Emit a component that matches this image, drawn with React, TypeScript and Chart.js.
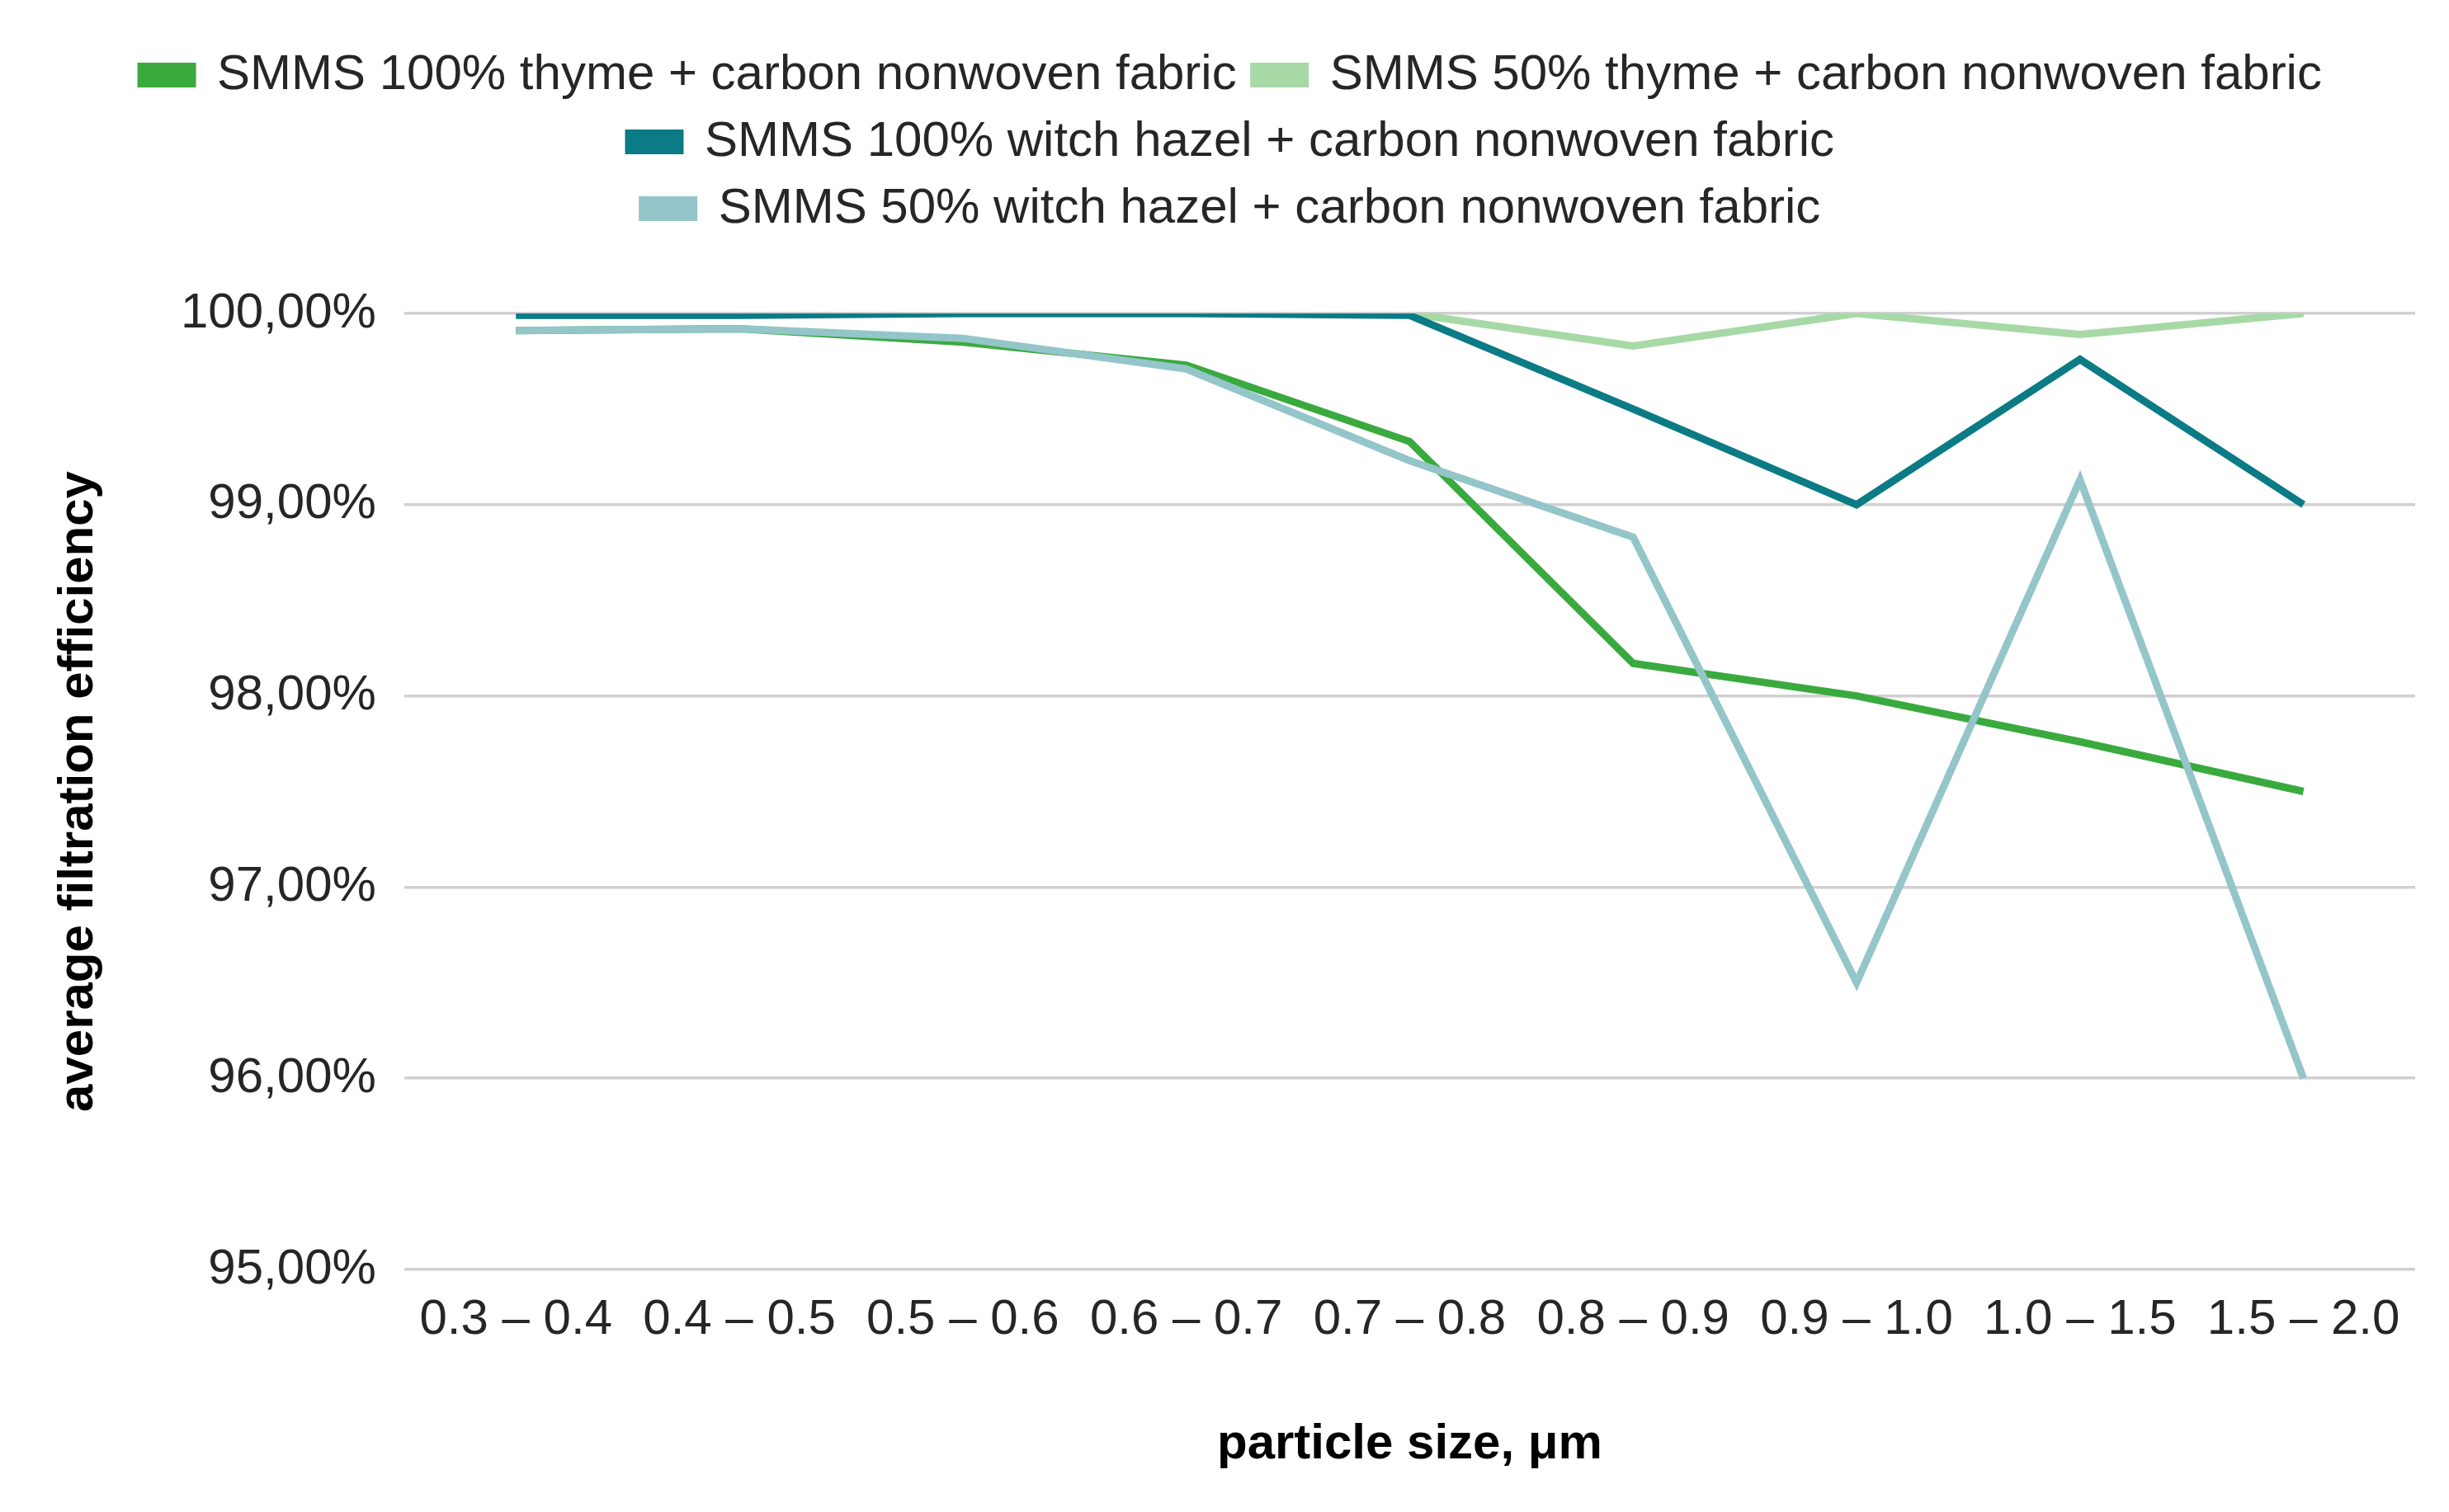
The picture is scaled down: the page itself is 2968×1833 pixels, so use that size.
import React, { useEffect, useRef } from "react";
import { Chart, registerables } from "chart.js";

Chart.register(...registerables);

const categories = [
  "0.3 – 0.4",
  "0.4 – 0.5",
  "0.5 – 0.6",
  "0.6 – 0.7",
  "0.7 – 0.8",
  "0.8 – 0.9",
  "0.9 – 1.0",
  "1.0 – 1.5",
  "1.5 – 2.0",
];

const thyme100 = [99.91, 99.92, 99.85, 99.73, 99.33, 98.17, 98.0, 97.76, 97.5];
const thyme50 = [100.0, 100.0, 100.0, 100.0, 100.0, 99.83, 100.0, 99.89, 100.0];
const witchHazel100 = [99.99, 99.99, 100.0, 100.0, 99.99, 99.5, 99.0, 99.76, 99.0];
const witchHazel50 = [99.91, 99.92, 99.87, 99.71, 99.23, 98.83, 96.5, 99.13, 96.0];

const seriesNames = [
  "SMMS 100% thyme + carbon nonwoven fabric",
  "SMMS 50% thyme + carbon nonwoven fabric",
  "SMMS 100% witch hazel + carbon nonwoven fabric",
  "SMMS 50% witch hazel + carbon nonwoven fabric",
];

const yTicks = [95, 96, 97, 98, 99, 100];

const FONT = "'Liberation Sans', Arial, Helvetica, sans-serif";

export default function App() {
  const canvasRef = useRef<HTMLCanvasElement | null>(null);

  useEffect(() => {
    const canvas = canvasRef.current;
    if (!canvas) return;
    const legendSpacer = {
      id: "legendSpacer",
      beforeInit(chart: any) {
        const originalFit = chart.legend.fit;
        chart.legend.fit = function fit() {
          originalFit.bind(chart.legend)();
          this.height += 87;
        };
      },
    };
    const mk = (label: string, data: number[], color: string, order: number) => ({
      label,
      data,
      borderColor: color,
      backgroundColor: color,
      borderWidth: 9,
      pointRadius: 0,
      tension: 0,
      fill: false,
      order,
    });
    const chart = new Chart(canvas, {
      type: "line",
      data: {
        labels: categories,
        datasets: [
          mk(seriesNames[0], thyme100, "#3aaa3f", 3),
          mk(seriesNames[1], thyme50, "#a6d9a6", 2),
          mk(seriesNames[2], witchHazel100, "#0b7b86", 1),
          mk(seriesNames[3], witchHazel50, "#93c5c9", 0),
        ],
      },
      options: {
        responsive: false,
        animation: false,
        devicePixelRatio: 1,
        layout: { padding: { top: 32, left: 50, right: 33, bottom: 0 } },
        plugins: {
          tooltip: { enabled: false },
          legend: {
            position: "top",
            labels: {
              boxWidth: 62,
              boxHeight: 21,
              padding: 21,
              color: "#262626",
              font: { family: FONT, size: 60 },
              sort: (a: any, b: any) => a.datasetIndex - b.datasetIndex,
            },
          },
        },
        scales: {
          x: {
            offset: true,
            grid: { display: false, drawTicks: false, offset: true },
            border: { display: false },
            ticks: {
              color: "#262626",
              font: { family: FONT, size: 60 },
              padding: 25,
              maxRotation: 0,
              autoSkip: false,
            },
            title: {
              display: true,
              text: "particle size, μm",
              color: "#000000",
              font: { family: FONT, size: 60, weight: "bold" },
              padding: { top: 54, bottom: 38 },
            },
          },
          y: {
            min: yTicks[0],
            max: yTicks[yTicks.length - 1],
            afterBuildTicks: (scale: any) => {
              scale.ticks = yTicks.map((v) => ({ value: v }));
            },
            grid: { color: "#d0d0d0", lineWidth: 3.5, drawTicks: false },
            border: { display: false },
            ticks: {
              color: "#262626",
              font: { family: FONT, size: 60 },
              padding: 34,
              callback: (v: any) => Number(v).toFixed(2).replace(".", ",") + "%",
            },
            title: {
              display: true,
              text: "average filtration efficiency",
              color: "#000000",
              font: { family: FONT, size: 60, weight: "bold" },
              padding: { top: 1, bottom: 54 },
            },
          },
        },
      },
      plugins: [legendSpacer],
    } as any);
    return () => chart.destroy();
  }, []);

  return (
    <div style={{ width: 2952, height: 1817, background: "#ffffff" }}>
      <canvas ref={canvasRef} width={2952} height={1817} />
    </div>
  );
}
